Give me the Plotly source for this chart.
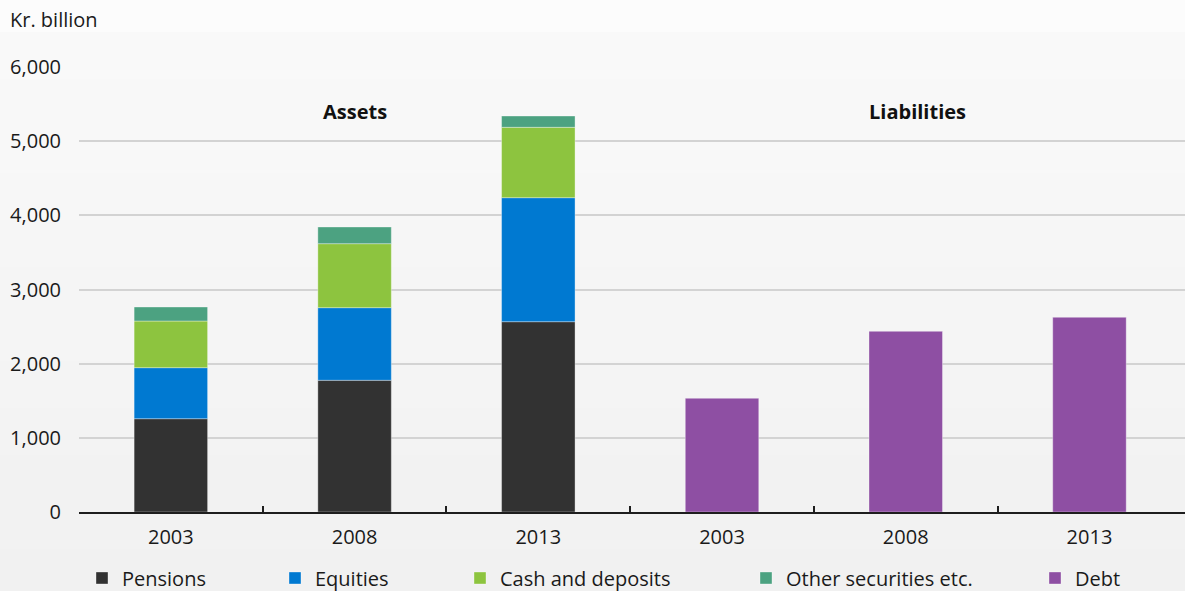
import plotly.graph_objects as go

years = ["2003", "2008", "2013"]
pensions = [1258, 1776, 2566]
equities = [688, 979, 1672]
cash_deposits = [629, 863, 949]
other_securities = [189, 225, 152]
debt = [1533, 2436, 2625]

asset_x = [0, 1, 2]
liab_x = [3, 4, 5]
tick_text = years + years

colors = {
    "Pensions": "#323232",
    "Equities": "#0079d1",
    "Cash and deposits": "#8dc43f",
    "Other securities etc.": "#4ca281",
    "Debt": "#8e4fa3",
}

FONT = "Open Sans"
FS = 20
W, H = 1185, 591
ML, MR, MT, MB = 79, 0, 67, 79
PW = W - ML - MR
PH = H - MT - MB

fig = go.Figure()
series = [
    ("Pensions", asset_x, pensions, "legend"),
    ("Equities", asset_x, equities, "legend2"),
    ("Cash and deposits", asset_x, cash_deposits, "legend3"),
    ("Other securities etc.", asset_x, other_securities, "legend4"),
    ("Debt", liab_x, debt, "legend5"),
]
for name, xs, ys, leg in series:
    fig.add_trace(go.Bar(
        name=name, x=xs, y=ys, width=0.4,
        marker=dict(color=colors[name], line=dict(color="rgba(255,255,255,0.35)", width=1)),
        legend=leg,
    ))

def py2paper(py):
    return (H - MB - py) / PH

shapes = []
shapes.append(dict(type="rect", xref="paper", yref="paper", x0=-0.2, x1=1.2,
                   y0=py2paper(32), y1=py2paper(-5), fillcolor="#fcfcfc",
                   line=dict(width=0), layer="below"))
steps = 12
top, bot = 32, H + 5
c0, c1 = 0xf9, 0xf1
for i in range(steps):
    a = top + (bot - top) * i / steps
    b = top + (bot - top) * (i + 1) / steps
    c = round(c0 + (c1 - c0) * i / (steps - 1))
    col = "#%02x%02x%02x" % (c, c, c)
    shapes.append(dict(type="rect", xref="paper", yref="paper", x0=-0.2, x1=1.2,
                       y0=py2paper(b), y1=py2paper(a), fillcolor=col,
                       line=dict(width=0), layer="below"))

def legx(px):
    return (px - ML) / PW

legend_common = dict(orientation="h", yref="container", y=0.022, yanchor="middle",
                     xanchor="left", bgcolor="rgba(0,0,0,0)",
                     font=dict(family=FONT, size=FS, color="#1a1a1a"),
                     itemwidth=30, traceorder="normal")
leg_pos = [82, 275, 460, 746, 1035]

layout_legends = {}
for i, p in enumerate(leg_pos):
    key = "legend" if i == 0 else "legend%d" % (i + 1)
    layout_legends[key] = dict(legend_common, x=legx(p))

fig.update_layout(
    width=W, height=H,
    margin=dict(l=ML, r=MR, t=MT, b=MB),
    paper_bgcolor="#f2f2f2",
    plot_bgcolor="rgba(0,0,0,0)",
    barmode="relative",
    showlegend=True,
    shapes=shapes,
    font=dict(family=FONT, size=FS, color="#1a1a1a"),
    xaxis=dict(
        range=[-0.5, 5.52],
        tickmode="array", tickvals=[0, 1, 2, 3, 4, 5], ticktext=tick_text,
        ticks="", showgrid=False, zeroline=False,
        showline=True, linecolor="#1e1e1e", linewidth=2,
        ticklabelstandoff=6,
        tickfont=dict(family=FONT, size=FS, color="#1a1a1a"),
        minor=dict(tickmode="array", tickvals=[0.5, 1.5, 2.5, 3.5, 4.5],
                   ticks="inside", ticklen=6, tickwidth=2, tickcolor="#1e1e1e",
                   showgrid=False),
        fixedrange=True,
    ),
    yaxis=dict(
        range=[0, 6000],
        tickmode="array", tickvals=[0, 1000, 2000, 3000, 4000, 5000, 6000],
        tickformat=",", showgrid=True, gridcolor="#d3d3d3", gridwidth=1.5,
        zeroline=False, showline=False, ticks="",
        ticklabelstandoff=17,
        tickfont=dict(family=FONT, size=FS, color="#1a1a1a"),
        fixedrange=True,
    ),
    annotations=[
        dict(text="Kr. billion", xref="paper", yref="paper", x=0, y=1,
             xanchor="left", yanchor="middle", xshift=-71, yshift=48,
             showarrow=False, font=dict(family=FONT, size=FS, color="#1a1a1a")),
        dict(text="<b>Assets</b>", xref="x", yref="paper", x=1, y=0.901,
             xanchor="center", yanchor="middle", showarrow=False,
             font=dict(family=FONT, size=FS, color="#111111")),
        dict(text="<b>Liabilities</b>", xref="x", yref="paper", x=4.065, y=0.901,
             xanchor="center", yanchor="middle", showarrow=False,
             font=dict(family=FONT, size=FS, color="#111111")),
    ],
    **layout_legends,
)

fig.write_html("out.html", config={"displayModeBar": False},
               post_script="document.body.style.margin='0';document.body.style.padding='0';")
